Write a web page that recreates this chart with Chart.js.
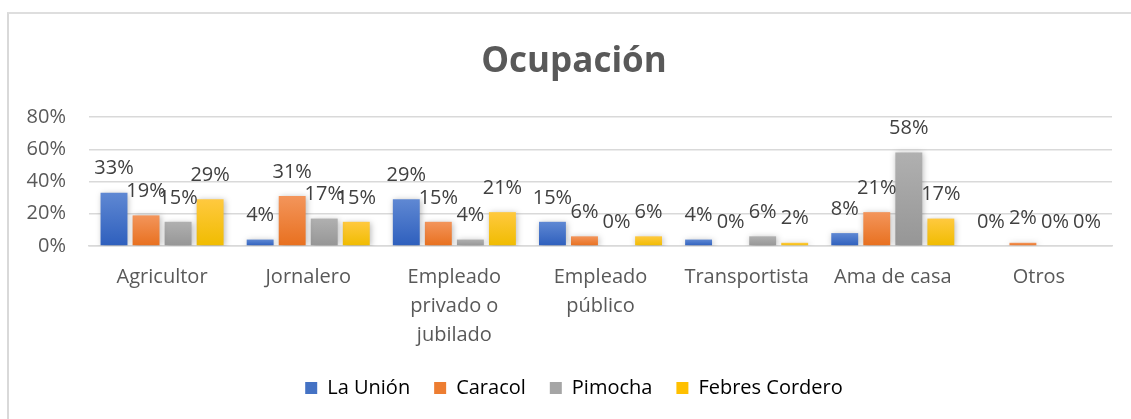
<!DOCTYPE html>
<html>
<head>
<meta charset="utf-8">
<script src="https://cdn.jsdelivr.net/npm/chart.js@4"></script>
<style>
  html, body { margin: 0; padding: 0; background: #fff; }
  #wrap { position: relative; width: 1131px; height: 419px; overflow: hidden; }
  #frame { position: absolute; left: 7px; top: 12px; right: -10px; bottom: -10px;
           border-left: 2px solid #d9d9d9; border-top: 2px solid #dedede; }
  canvas { position: absolute; left: 0; top: 0; }
</style>
</head>
<body>
<div id="wrap">
  <div id="frame"></div>
  <canvas id="chart" width="1131" height="419"></canvas>
</div>
<script>
// categories / series
const categories = [
  'Agricultor',
  'Jornalero',
  ['Empleado', 'privado o', 'jubilado'],
  ['Empleado', 'público'],
  'Transportista',
  'Ama de casa',
  'Otros'
]
const seriesNames = ['La Unión', 'Caracol', 'Pimocha', 'Febres Cordero']
const laUnion       = [33, 4, 29, 15, 4, 8, 0]
const caracol       = [19, 31, 15, 6, 0, 21, 2]
const pimocha       = [15, 17, 4, 0, 6, 58, 0]
const febresCordero = [29, 15, 21, 6, 2, 17, 0]
const yTicks = [0, 20, 40, 60, 80]

// [light top, dark bottom, legend/base]
const colors = [
  ['#5f88d3', '#2e5fbd', '#4472c4'],
  ['#f3955b', '#e8701f', '#ed7d31'],
  ['#b0b0b0', '#969696', '#a5a5a5'],
  ['#ffc93f', '#f0bc00', '#ffc000']
]

const FONT = "'Open Sans', 'DejaVu Sans', sans-serif"
const TEXT = '#595959'

function barFill(idx) {
  return function (ctx) {
    let chart = ctx.chart
    let c = colors[idx]
    if (!chart.chartArea || ctx.type !== 'data') return c[2]
    let y = chart.scales.y
    let top = y.getPixelForValue(ctx.raw)
    let bottom = y.getPixelForValue(0)
    if (bottom - top < 1) top = bottom - 1
    let g = chart.ctx.createLinearGradient(0, top, 0, bottom)
    g.addColorStop(0, c[0])
    g.addColorStop(1, c[1])
    return g
  }
}

const barShadow = {
  id: 'barShadow',
  beforeDatasetDraw(chart) {
    let ctx = chart.ctx
    ctx.save()
    ctx.shadowColor = 'rgba(0,0,0,0.28)'
    ctx.shadowBlur = 6
    ctx.shadowOffsetX = 1
    ctx.shadowOffsetY = 1
  },
  afterDatasetDraw(chart) {
    chart.ctx.restore()
  }
}

const valueLabels = {
  id: 'valueLabels',
  afterDatasetsDraw(chart) {
    let ctx = chart.ctx
    ctx.save()
    ctx.font = '20px ' + FONT
    ctx.fillStyle = '#404040'
    ctx.textAlign = 'center'
    ctx.textBaseline = 'middle'
    chart.data.datasets.forEach((ds, i) => {
      let meta = chart.getDatasetMeta(i)
      meta.data.forEach((bar, j) => {
        ctx.fillText(ds.data[j] + '%', bar.x, bar.y - 24)
      })
    })
    ctx.restore()
  }
}

const seriesData = [laUnion, caracol, pimocha, febresCordero]
let datasets = seriesNames.map((name, i) => ({
  label: name,
  data: seriesData[i],
  backgroundColor: barFill(i),
  borderWidth: 0,
  categoryPercentage: 0.877,
  barPercentage: 0.84
}))

new Chart(document.getElementById('chart'), {
  type: 'bar',
  data: { labels: categories, datasets: datasets },
  plugins: [barShadow, valueLabels],
  options: {
    responsive: false,
    animation: false,
    events: [],
    layout: { padding: { left: 36, right: 19, top: 41, bottom: 11 } },
    plugins: {
      title: {
        display: true,
        text: 'Ocupación',
        color: TEXT,
        font: { family: FONT, size: 35, weight: 'bold' },
        padding: { top: 0, bottom: 34 }
      },
      legend: {
        position: 'bottom',
        labels: {
          color: TEXT,
          font: { family: FONT, size: 20 },
          boxWidth: 12,
          boxHeight: 12,
          padding: 24,
          generateLabels(chart) {
            return seriesNames.map((n, i) => ({
              text: n,
              fillStyle: colors[i][2],
              strokeStyle: colors[i][2],
              lineWidth: 0,
              datasetIndex: i
            }))
          }
        }
      },
      tooltip: { enabled: false }
    },
    scales: {
      x: {
        grid: { display: false, drawTicks: false },
        border: { display: true, color: '#d9d9d9', width: 1.5 },
        ticks: {
          color: TEXT,
          font: { family: FONT, size: 20, lineHeight: 1.45 },
          padding: 17,
          maxRotation: 0,
          autoSkip: false
        },
        afterFit(scale) { scale.height = 108 }
      },
      y: {
        min: 0,
        max: 80,
        afterBuildTicks(scale) { scale.ticks = yTicks.map(v => ({ value: v })) },
        grid: { color: '#d9d9d9', lineWidth: 1.5, drawTicks: false },
        border: { display: false },
        ticks: {
          color: TEXT,
          font: { family: FONT, size: 20 },
          padding: 23,
          callback: v => v + '%'
        },
        afterFit(scale) {
          scale.width = 53
          // let the tick labels run into the left padding instead of clipping them
          scale._computeLabelArea = () => undefined
        }
      }
    }
  }
})
</script>
</body>
</html>
